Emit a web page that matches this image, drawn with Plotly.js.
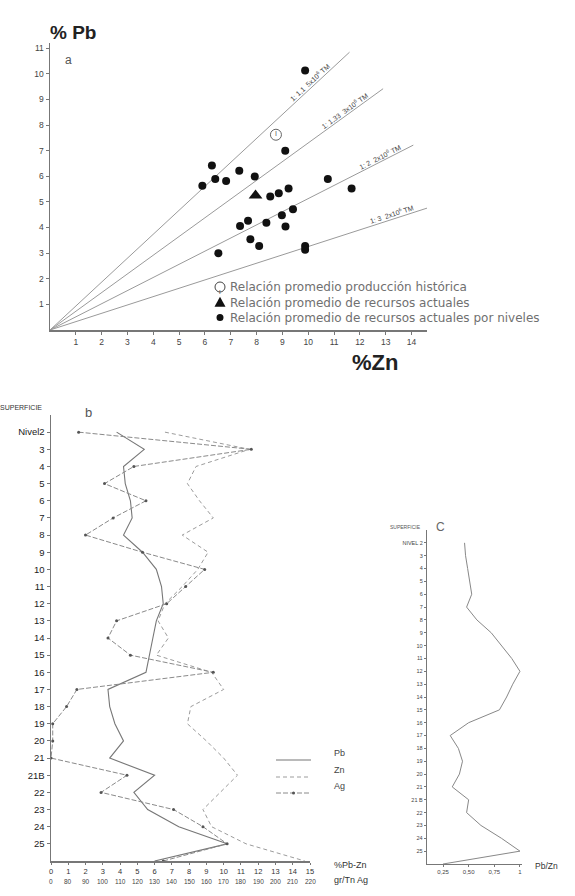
<!DOCTYPE html>
<html><head><meta charset="utf-8">
<script src="https://cdn.plot.ly/plotly-3.0.1.min.js"></script>
<style>html,body{margin:0;padding:0;background:#fff;}#chart{width:575px;height:896px;}</style>
</head><body><div id="chart"></div>
<script>
// ---------- Panel a : %Pb vs %Zn ----------
const aZn = [9.11,6.27,7.33,6.40,6.82,5.90,7.93,8.53,8.86,9.24,10.76,11.68,9.41,8.98,7.67,7.36,8.38,9.12,7.76,8.10,6.52,9.88,9.88,9.88];
const aPb = [7.00,6.42,6.21,5.89,5.81,5.63,5.99,5.21,5.34,5.52,5.89,5.52,4.71,4.48,4.26,4.06,4.19,4.04,3.54,3.28,3.00,3.28,3.13,10.13];
const actualZn = [7.96], actualPb = [5.25];
const histZn = [8.75], histPb = [7.62];
const lineZnPerPb = [1.07, 1.37, 1.95, 3.07];
const lineEndZn = [11.6, 12.9, 14.07, 14.6];
const lineLabels = ['1: 1,1  5x10<sup>6</sup> TM', '1: 1,33  3x10<sup>6</sup> TM', '1: 2  2x10<sup>6</sup> TM', '1: 3  2x10<sup>6</sup> TM'];
const lineLabelZn = [10.2, 11.5, 12.85, 13.3];
const aXTicks = [1,2,3,4,5,6,7,8,9,10,11,12,13,14];
const aYTicks = [1,2,3,4,5,6,7,8,9,10,11];
const legendA = ['Relación promedio producción histórica', 'Relación promedio de recursos actuales', 'Relación promedio de recursos actuales por niveles'];

// ---------- Panel b : grades by level ----------
const levelLabelsB = ['Nivel2','3','4','5','6','7','8','9','10','11','12','13','14','15','16','17','18','19','20','21','21B','22','23','24','25',''];
const pbB = [3.8,5.4,4.2,4.3,4.6,4.7,4.2,5.3,6.1,6.4,6.5,6.1,5.9,5.7,5.5,3.3,3.4,3.7,4.2,3.4,6.0,4.8,5.6,7.4,10.2,6.0];
const znB = [6.6,11.5,8.4,7.9,8.6,9.4,7.6,9.1,8.5,7.6,6.6,6.2,6.8,6.1,9.3,10.0,8.1,7.9,9.0,10.0,10.8,9.8,8.8,9.3,11.3,14.7];
const agB = [86,186,118,101,125,106,90,123,159,148,137,108,103,116,164,85,72,8,8,0,114,99,141,158,172,135]; // gr/Tn
const pctTicks = [0,1,2,3,4,5,6,7,8,9,10,11,12,13,14,15];
const agTickLabels = ['0','80','90','100','110','120','130','140','150','160','170','180','190','200','210','220'];
const legendB = ['Pb','Zn','Ag'];

// ---------- Panel c : Pb/Zn by level ----------
const levelLabelsC = ['NIVEL 2','3','4','5','6','7','8','9','10','11','12','13','14','15','16','17','18','19','20','21','21 B','22','23','24','25',''];
const pbznC = [0.46,0.47,0.49,0.51,0.53,0.48,0.58,0.72,0.82,0.92,1.0,0.93,0.87,0.80,0.50,0.32,0.40,0.44,0.41,0.34,0.50,0.48,0.62,0.82,1.0,0.25];
const cTickVals = [0.25,0.5,0.75,1];
const cTickText = ['0,25','0,50','0,75','1'];

// ---------- helpers ----------
const W = 575, H = 896;
const fx = x => x / W, fy = y => 1 - y / H;
const FONT = 'Liberation Sans, Arial, sans-serif';
const levelPos = levelLabelsB.map((_, i) => i + 2);
const agToPos = v => v >= 80 ? (v - 70) / 10 : v / 80;

const traces = [];
lineZnPerPb.forEach((r, i) => {
  traces.push({x: [0, lineEndZn[i]], y: [0, lineEndZn[i] / r], mode: 'lines', xaxis: 'x', yaxis: 'y',
    line: {color: '#9a9a9a', width: 1}, showlegend: false, hoverinfo: 'skip'});
});
traces.push({x: aZn, y: aPb, mode: 'markers', xaxis: 'x', yaxis: 'y', marker: {color: '#111', size: 8}, showlegend: false});
traces.push({x: actualZn, y: actualPb, mode: 'markers', xaxis: 'x', yaxis: 'y', marker: {color: '#111', size: 12, symbol: 'triangle-up'}, showlegend: false});
traces.push({x: histZn, y: histPb, mode: 'markers+text', text: ['I'], textposition: 'middle center', textfont: {size: 7, color: '#555', family: FONT},
  xaxis: 'x', yaxis: 'y', marker: {color: '#666', size: 11, symbol: 'circle-open', line: {width: 1}}, showlegend: false});

traces.push({x: pbB, y: levelPos, mode: 'lines', xaxis: 'x2', yaxis: 'y2', line: {color: '#777', width: 1.1}, showlegend: false});
traces.push({x: znB, y: levelPos, mode: 'lines', xaxis: 'x2', yaxis: 'y2', line: {color: '#9c9c9c', width: 1, dash: '4px,3px'}, showlegend: false});
traces.push({x: agB.map(agToPos), y: levelPos, mode: 'lines+markers', xaxis: 'x2', yaxis: 'y2',
  line: {color: '#8a8a8a', width: 1, dash: '5px,2px'}, marker: {size: 3, color: '#555'}, showlegend: false});

traces.push({x: pbznC, y: levelPos, mode: 'lines', xaxis: 'x3', yaxis: 'y3', line: {color: '#888', width: 1}, showlegend: false, cliponaxis: false});

const annotations = [];
const sx = (427 - 50) / 14.6, sy = (330 - 43) / 11.2;
lineLabels.forEach((t, i) => {
  const th = Math.atan((1 / lineZnPerPb[i]) * sy / sx);
  annotations.push({xref: 'x', yref: 'y', x: lineLabelZn[i], y: lineLabelZn[i] / lineZnPerPb[i], text: t, showarrow: false,
    textangle: -th * 180 / Math.PI, xshift: -5 * Math.sin(th), yshift: 5 * Math.cos(th),
    font: {size: 7, color: '#444', family: FONT}});
});
annotations.push({xref: 'paper', yref: 'paper', x: fx(228), y: fy(302.5), xanchor: 'left', yanchor: 'middle', align: 'left',
  text: legendA.join('<br>'), showarrow: false,
  font: {size: 12, color: '#707070', family: 'DejaVu Sans, sans-serif'}});
annotations.push({xref: 'paper', yref: 'paper', x: fx(220), y: fy(287), text: 'I', showarrow: false, font: {size: 6, color: '#444', family: FONT}});

annotations.push({xref: 'paper', yref: 'paper', x: fx(48), y: fy(20), text: '<b>% Pb</b>', showarrow: false, font: {size: 19, color: '#222', family: FONT}});
annotations.push({xref: 'paper', yref: 'paper', x: fx(400), y: fy(362), text: '<b>%Zn</b>', showarrow: false, font: {size: 22, color: '#222', family: FONT}});
annotations.push({xref: 'paper', yref: 'paper', x: fx(63), y: fy(51), text: 'a', showarrow: false, font: {size: 12, color: '#555', family: FONT}});
annotations.push({xref: 'paper', yref: 'paper', x: fx(83), y: fy(412), text: 'b', showarrow: false, font: {size: 13, color: '#555', family: FONT}});
annotations.push({xref: 'paper', yref: 'paper', x: fx(447), y: fy(527), text: 'C', showarrow: false, font: {size: 12, color: '#666', family: FONT}});
annotations.push({xref: 'paper', yref: 'paper', x: fx(44), y: fy(407), xanchor: 'right', text: 'SUPERFICIE', showarrow: false, font: {size: 7, color: '#333', family: FONT}});
annotations.push({xref: 'paper', yref: 'paper', x: fx(423), y: fy(527), xanchor: 'right', text: 'SUPERFICIE', showarrow: false, font: {size: 5, color: '#555', family: FONT}});
pctTicks.forEach((v, i) => {
  annotations.push({xref: 'x2', yref: 'paper', x: v, y: fy(887), text: agTickLabels[i], showarrow: false, font: {size: 6.5, color: '#444', family: FONT}});
});
annotations.push({xref: 'paper', yref: 'paper', x: fx(332), y: fy(872), xanchor: 'left', text: '%Pb-Zn', showarrow: false, font: {size: 9, color: '#333', family: FONT}});
annotations.push({xref: 'paper', yref: 'paper', x: fx(332), y: fy(887), xanchor: 'left', text: 'gr/Tn Ag', showarrow: false, font: {size: 9, color: '#333', family: FONT}});
annotations.push({xref: 'paper', yref: 'paper', x: fx(533), y: fy(873), xanchor: 'left', text: 'Pb/Zn', showarrow: false, font: {size: 8.5, color: '#333', family: FONT}});
const legBY = [760, 777, 793];
legendB.forEach((t, i) => {
  annotations.push({xref: 'paper', yref: 'paper', x: fx(332), y: fy(legBY[i]), xanchor: 'left', text: t, showarrow: false, font: {size: 9, color: '#444', family: FONT}});
});

const triPath = (cx, cy, s) => `M ${fx(cx - s)} ${fy(cy + s * 0.85)} L ${fx(cx + s)} ${fy(cy + s * 0.85)} L ${fx(cx)} ${fy(cy - s * 0.95)} Z`;
const shapes = [
  {type: 'circle', xref: 'paper', yref: 'paper', x0: fx(215), x1: fx(225), y0: fy(292), y1: fy(282), line: {color: '#444', width: 1}},
  {type: 'path', xref: 'paper', yref: 'paper', path: triPath(220, 302, 5.5), fillcolor: '#111', line: {width: 0}},
  {type: 'circle', xref: 'paper', yref: 'paper', x0: fx(216.5), x1: fx(223.5), y0: fy(321), y1: fy(314), fillcolor: '#111', line: {width: 0}},
  {type: 'line', xref: 'paper', yref: 'paper', x0: fx(276), x1: fx(311), y0: fy(legBY[0]), y1: fy(legBY[0]), line: {color: '#777', width: 1.1}},
  {type: 'line', xref: 'paper', yref: 'paper', x0: fx(276), x1: fx(311), y0: fy(legBY[1]), y1: fy(legBY[1]), line: {color: '#9c9c9c', width: 1, dash: '4px,3px'}},
  {type: 'line', xref: 'paper', yref: 'paper', x0: fx(276), x1: fx(311), y0: fy(legBY[2]), y1: fy(legBY[2]), line: {color: '#8a8a8a', width: 1, dash: '5px,2px'}},
  {type: 'circle', xref: 'paper', yref: 'paper', x0: fx(292), x1: fx(295), y0: fy(legBY[2] + 1.5), y1: fy(legBY[2] - 1.5), fillcolor: '#555', line: {width: 0}}
];

const axBase = {showgrid: false, zeroline: false, showline: true, linecolor: '#777', linewidth: 1.5, ticks: 'outside', tickcolor: '#777'};
const layout = {
  width: W, height: H, margin: {l: 0, r: 0, t: 0, b: 0}, paper_bgcolor: '#fff', plot_bgcolor: '#fff', showlegend: false,
  font: {family: FONT},
  xaxis: Object.assign({}, axBase, {domain: [fx(50), fx(427)], range: [0, 14.6], tickvals: aXTicks, ticklen: 3, anchor: 'y',
    tickfont: {size: 8.5, color: '#444'}}),
  yaxis: Object.assign({}, axBase, {domain: [fy(330), fy(43)], range: [0, 11.2], tickvals: aYTicks, ticklen: 3, anchor: 'x',
    tickfont: {size: 8.5, color: '#444'}}),
  xaxis2: Object.assign({}, axBase, {domain: [fx(51), fx(310)], range: [0, 15], tickvals: pctTicks, ticklen: 2, anchor: 'y2',
    tickfont: {size: 7.5, color: '#333'}}),
  yaxis2: Object.assign({}, axBase, {domain: [fy(861), fy(415)], range: [27, 1], tickvals: levelPos.slice(0, 25), ticktext: levelLabelsB.slice(0, 25),
    ticklen: 3, anchor: 'x2', tickfont: {size: 9.5, color: '#222'}}),
  xaxis3: Object.assign({}, axBase, {domain: [fx(427), fx(522)], range: [0.094, 1.02], tickvals: cTickVals, ticktext: cTickText, ticklen: 2, anchor: 'y3',
    linewidth: 1.2, tickfont: {size: 6, color: '#444'}}),
  yaxis3: Object.assign({}, axBase, {domain: [fy(864), fy(530)], range: [27, 1], tickvals: levelPos.slice(0, 25), ticktext: levelLabelsC.slice(0, 25),
    ticklen: 2, anchor: 'x3', linewidth: 1.2, tickfont: {size: 5.5, color: '#444'}}),
  annotations: annotations, shapes: shapes
};
Plotly.newPlot('chart', traces, layout, {staticPlot: true, displayModeBar: false});
</script></body></html>
